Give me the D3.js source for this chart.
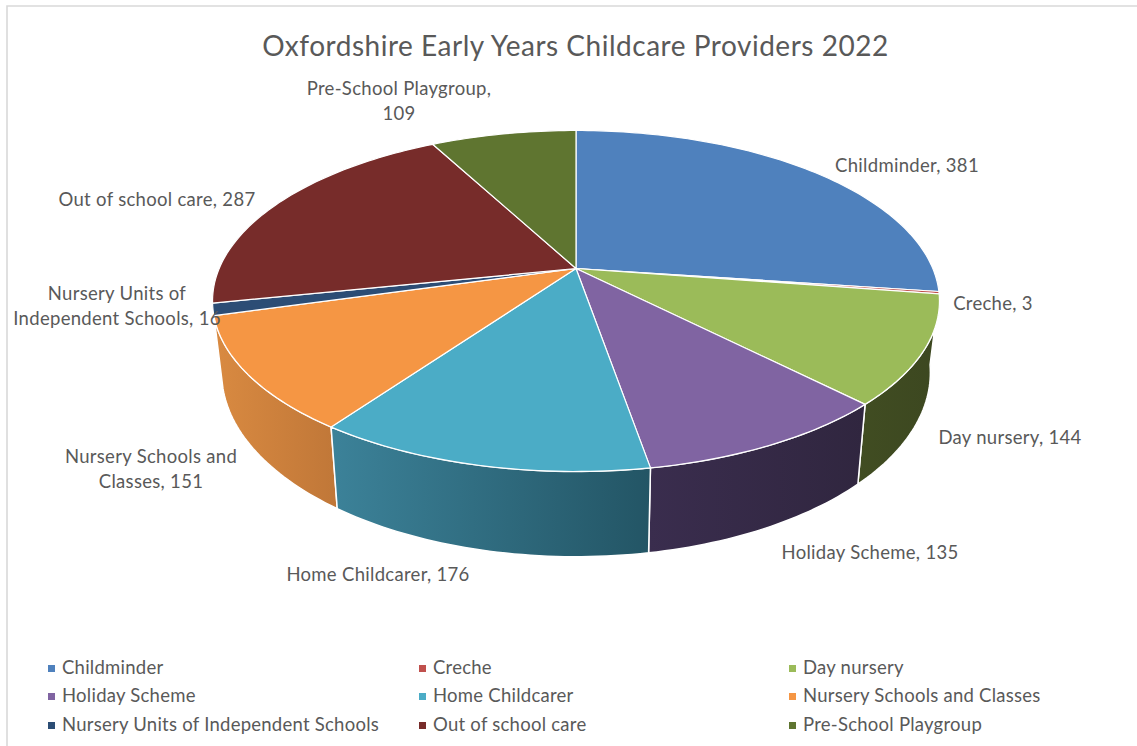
<!DOCTYPE html>
<html><head><meta charset="utf-8">
<script src="https://cdnjs.cloudflare.com/ajax/libs/d3/7.8.5/d3.min.js"></script>
<style>html,body{margin:0;padding:0;background:#fff;overflow:hidden}svg{display:block}text{font-family:Lato,"Open Sans",sans-serif;fill:#595959}</style>
</head><body><svg id="c" width="1137" height="746"></svg>
<script>
const categories=["Childminder","Creche","Day nursery","Holiday Scheme","Home Childcarer","Nursery Schools and Classes","Nursery Units of Independent Schools","Out of school care","Pre-School Playgroup"];
const values=[381,3,144,135,176,151,16,287,109];
const colors=["#4f81bd","#c0504d","#9bbb59","#8064a2","#4bacc6","#f59644","#2c4d75","#772c2a","#5f7530"];
const wallLeft=["#3a5f8c","#8e3b39","#414d22","#3a2d4e","#3c8299","#d98a41","#213a58","#5a2120","#47581f"];
const wallRight=["#3a5f8c","#8e3b39","#3c4720","#30263f","#235565","#c07738","#213a58","#5a2120","#47581f"];
const title="Oxfordshire Early Years Childcare Providers 2022";
const labelLayout=[
 {x:907,y:172,lines:["Childminder, 381"]},
 {x:993,y:310,lines:["Creche, 3"]},
 {x:1010,y:444,lines:["Day nursery, 144"]},
 {x:870,y:559,lines:["Holiday Scheme, 135"]},
 {x:378,y:581,lines:["Home Childcarer, 176"]},
 {x:151,y:463,lines:["Nursery Schools and","Classes, 151"]},
 {x:117,y:300,lines:["Nursery Units of","Independent Schools, 16"]},
 {x:157,y:206,lines:["Out of school care, 287"]},
 {x:399,y:95,lines:["Pre-School Playgroup,","109"]}
];
const svg=d3.select("#c");
const cx=576,cy=268.5,a=356.8,b=164.3,k=-0.1906,depth=69,sx=0.975,sy=1.08;
function proj(t,bottom=false){
  const X=Math.sin(t),Y=-Math.cos(t),w=1+k*Y;
  const dx=a*X/w,dy=b*Y/w;
  return bottom?[cx+sx*dx,cy+depth+sy*dy]:[cx+dx,cy+dy];
}
function arcPts(t0,t1,bottom){
  const n=Math.max(2,Math.ceil(Math.abs(t1-t0)/0.02));
  return d3.range(n+1).map(i=>proj(t0+(t1-t0)*i/n,bottom));
}
const line=d3.line();
const arcs=d3.pie().sort(null).value(d=>d).startAngle(0).endAngle(2*Math.PI)(values);
const defs=svg.append("defs");
svg.append("path").attr("d","M1137,6H7V746").attr("stroke","#d9d9d9").attr("stroke-width",1.6).attr("fill","none");
svg.append("text").attr("x",575.5).attr("y",56).attr("text-anchor","middle").attr("font-size",28).style("letter-spacing","0.52px").text(title);
const wallG=svg.append("g");
const order=arcs.map((d,i)=>({d,i})).sort((p,q)=>Math.cos(q.d.startAngle/2+q.d.endAngle/2)-Math.cos(p.d.startAngle/2+p.d.endAngle/2));
order.forEach(({d,i})=>{
  const top=arcPts(d.startAngle,d.endAngle,false),bot=arcPts(d.endAngle,d.startAngle,true);
  const xs=top.map(p=>p[0]).concat(bot.map(p=>p[0]));
  const g=defs.append("linearGradient").attr("id","w"+i).attr("gradientUnits","userSpaceOnUse")
    .attr("x1",d3.min(xs)).attr("x2",d3.max(xs)).attr("y1",0).attr("y2",0);
  g.append("stop").attr("offset",0).attr("stop-color",wallLeft[i]);
  g.append("stop").attr("offset",1).attr("stop-color",wallRight[i]);
  wallG.append("path").attr("d",line(top.concat(bot))+"Z").attr("fill",`url(#w${i})`).attr("stroke","#fff").attr("stroke-width",1.5).attr("stroke-linejoin","round");
});
const topG=svg.append("g");
arcs.forEach((d,i)=>{
  const pts=[[cx,cy]].concat(arcPts(d.startAngle,d.endAngle,false));
  topG.append("path").attr("d",line(pts)+"Z").attr("fill",colors[i]).attr("stroke","#fff").attr("stroke-width",1.2).attr("stroke-linejoin","round");
});
const lh=25;
const lg=svg.append("g").attr("font-size",18.5).style("letter-spacing","0.3px");
labelLayout.forEach(l=>{
  const t=lg.append("text").attr("text-anchor","middle").attr("x",l.x).attr("y",l.y);
  l.lines.forEach((ln,j)=>t.append("tspan").attr("x",l.x).attr("dy",j?lh:0).text(ln));
});
const legX=d3.scaleOrdinal().domain([0,1,2]).range([48,419,789]);
const legY=d3.scaleOrdinal().domain([0,1,2]).range([668,696,725]);
const leg=svg.append("g").attr("font-size",18.5).style("letter-spacing","0.25px");
categories.forEach((c,i)=>{
  const x=legX(i%3),y=legY(Math.floor(i/3));
  leg.append("rect").attr("x",x).attr("y",y-3).attr("width",7).attr("height",7).attr("fill",colors[i]);
  leg.append("text").attr("x",x+14).attr("y",y+6).text(c);
});
</script></body></html>
